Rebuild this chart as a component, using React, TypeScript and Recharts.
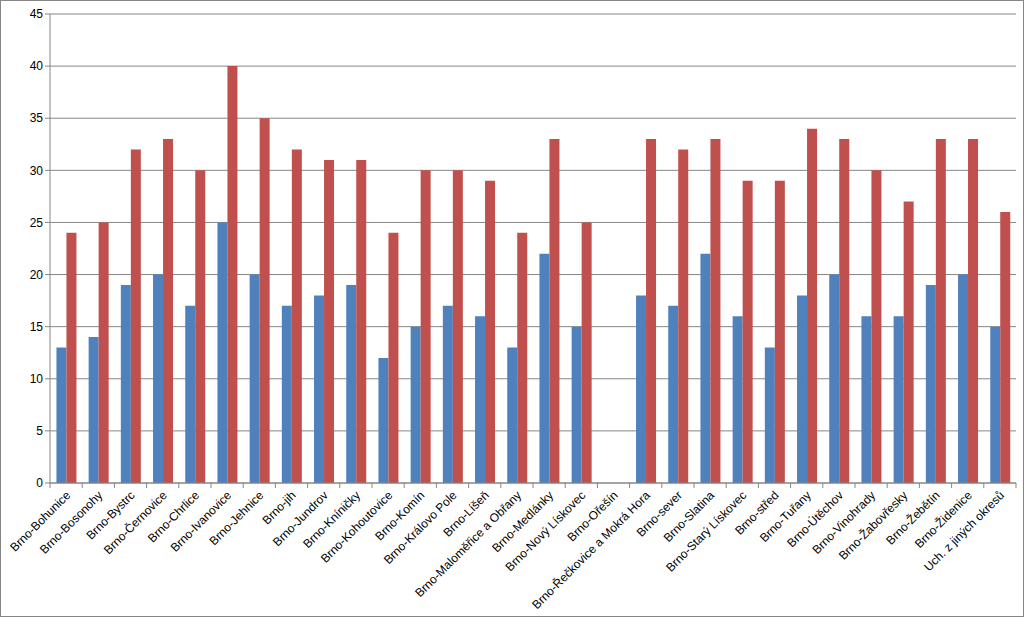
import { BarChart, Bar, XAxis, YAxis, CartesianGrid } from 'recharts';

const districts = [
  'Brno-Bohunice',
  'Brno-Bosonohy',
  'Brno-Bystrc',
  'Brno-Černovice',
  'Brno-Chrlice',
  'Brno-Ivanovice',
  'Brno-Jehnice',
  'Brno-jih',
  'Brno-Jundrov',
  'Brno-Kníničky',
  'Brno-Kohoutovice',
  'Brno-Komín',
  'Brno-Královo Pole',
  'Brno-Líšeň',
  'Brno-Maloměřice a Obřany',
  'Brno-Medlánky',
  'Brno-Nový Lískovec',
  'Brno-Ořešín',
  'Brno-Řečkovice a Mokrá Hora',
  'Brno-sever',
  'Brno-Slatina',
  'Brno-Starý Lískovec',
  'Brno-střed',
  'Brno-Tuřany',
  'Brno-Útěchov',
  'Brno-Vinohrady',
  'Brno-Žabovřesky',
  'Brno-Žebětín',
  'Brno-Židenice',
  'Uch. z jiných okresů',
];

const blueValues = [13, 14, 19, 20, 17, 25, 20, 17, 18, 19, 12, 15, 17, 16, 13, 22, 15, null, 18, 17, 22, 16, 13, 18, 20, 16, 16, 19, 20, 15];
const redValues = [24, 25, 32, 33, 30, 40, 35, 32, 31, 31, 24, 30, 30, 29, 24, 33, 25, null, 33, 32, 33, 29, 29, 34, 33, 30, 27, 33, 33, 26];

const yTicks = [0, 5, 10, 15, 20, 25, 30, 35, 40, 45];

const data = districts.map((name, i) => ({
  name,
  blue: blueValues[i],
  red: redValues[i],
}));

const W = 1024;
const H = 617;
const PLOT_LEFT = 50;
const PLOT_RIGHT = 8;
const BAND = (W - PLOT_LEFT - PLOT_RIGHT) / districts.length;

const font = 'Liberation Sans, Arial, sans-serif';

function CategoryTick(props: any) {
  const { x, y, payload, index } = props;
  const last = index === districts.length - 1;
  return (
    <g>
      <line x1={x - BAND / 2} y1={y} x2={x - BAND / 2} y2={y + 5} stroke="#868686" />
      {last && <line x1={x + BAND / 2} y1={y} x2={x + BAND / 2} y2={y + 5} stroke="#868686" />}
      <text
        x={x + 5}
        y={y + 13}
        transform={`rotate(-45, ${x + 5}, ${y + 13})`}
        textAnchor="end"
        fontSize={12}
        fontFamily={font}
        fill="#000"
      >
        {payload.value}
      </text>
    </g>
  );
}

export default function App() {
  return (
    <div
      style={{
        position: 'absolute',
        left: 0,
        top: 0,
        width: W,
        height: H,
        boxSizing: 'border-box',
        border: '1px solid #868686',
        background: '#fff',
      }}
    >
      <BarChart
        width={W - 2}
        height={H - 2}
        data={data}
        margin={{ top: 13, right: PLOT_RIGHT - 1, left: 6, bottom: 2 }}
        barCategoryGap="20%"
        barGap={0}
      >
        <CartesianGrid vertical={false} stroke="#868686" strokeWidth={1} />
        <XAxis
          dataKey="name"
          interval={0}
          height={131}
          stroke="#868686"
          tickLine={false}
          tickSize={0}
          tickMargin={0}
          tick={<CategoryTick />}
        />
        <YAxis
          domain={[0, 45]}
          ticks={yTicks}
          interval={0}
          width={43}
          stroke="#868686"
          tickSize={5}
          tick={{ fontSize: 12, fontFamily: font, fill: '#000' }}
        />
        <Bar dataKey="blue" fill="#4F81BD" isAnimationActive={false} />
        <Bar dataKey="red" fill="#C0504D" isAnimationActive={false} />
      </BarChart>
    </div>
  );
}
